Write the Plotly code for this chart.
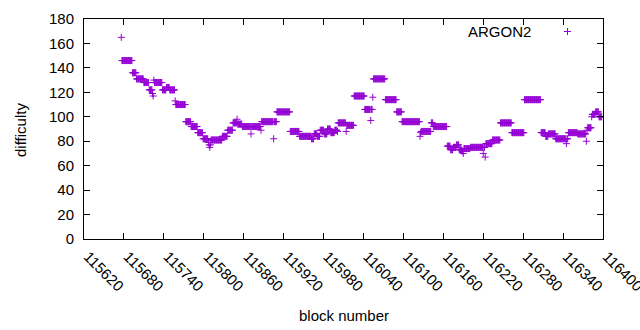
import plotly.graph_objects as go

# Runs of constant difficulty: first block, last block, difficulty
run_first = [115676, 115677, 115693, 115699, 115710, 115718, 115723, 115724, 115725, 115726,
             115738, 115744, 115749, 115757, 115758, 115773, 115781, 115791, 115799, 115807,
             115808, 115809, 115810, 115811, 115828, 115836, 115844, 115850, 115851, 115858,
             115871, 115872, 115886, 115887, 115905, 115906, 115910, 115930, 115944, 115962,
             115966, 115971, 115975, 115981, 115986, 115991, 115997, 116001, 116002, 116014,
             116015, 116026, 116042, 116051, 116052, 116054, 116055, 116073, 116090, 116098,
             116125, 116126, 116127, 116142, 116145, 116166, 116171, 116175, 116180, 116184,
             116188, 116190, 116191, 116201, 116220, 116221, 116223, 116224, 116234, 116246,
             116263, 116282, 116307, 116314, 116318, 116329, 116345, 116346, 116348, 116362,
             116375, 116376, 116377, 116383, 116384, 116389, 116394]
run_last = [115676, 115692, 115698, 115709, 115717, 115722, 115723, 115724, 115725, 115737,
            115743, 115748, 115756, 115757, 115772, 115780, 115790, 115798, 115806, 115807,
            115808, 115809, 115810, 115827, 115835, 115843, 115849, 115850, 115857, 115870,
            115871, 115885, 115886, 115904, 115905, 115909, 115929, 115943, 115961, 115965,
            115970, 115974, 115980, 115985, 115990, 115996, 116000, 116001, 116013, 116014,
            116025, 116041, 116050, 116051, 116053, 116054, 116072, 116089, 116097, 116124,
            116125, 116126, 116141, 116144, 116165, 116170, 116174, 116179, 116183, 116187,
            116189, 116190, 116200, 116219, 116220, 116222, 116223, 116233, 116245, 116262,
            116281, 116306, 116313, 116317, 116328, 116344, 116345, 116347, 116361, 116374,
            116375, 116376, 116382, 116383, 116388, 116393, 116398]
run_value = [165, 146, 136, 131, 128, 122, 119, 117, 130, 128,
             122, 124, 122, 113, 110, 96, 92, 87, 82, 79,
             77, 75, 77, 81, 84, 89, 95, 98, 94, 92,
             86, 92, 89, 96, 82, 96, 104, 88, 84, 82,
             86, 84, 89, 86, 90, 87, 89, 88, 95, 88,
             93, 117, 106, 97, 106, 116, 131, 114, 104, 96,
             84, 87, 88, 95, 92, 76, 73, 75, 77, 73,
             72, 70, 74, 75, 70, 75, 67, 78, 81, 95,
             87, 114, 87, 84, 86, 82, 78, 82, 87, 86,
             80, 89, 91, 100, 102, 104, 100]

x_ticks = list(range(115620, 116401, 60))
y_ticks = list(range(0, 181, 20))

blocks, diffs = [], []
for a, b, v in zip(run_first, run_last, run_value):
    for blk in range(a, b + 1):
        blocks.append(blk)
        diffs.append(v)

COLOR = "#9400D3"
FONT = "Liberation Sans, Arial, sans-serif"
FS = 15

L, R, T, B = 84, 37, 19, 91
W, H = 640, 330
pw, ph = W - L - R, H - T - B

def px(x):
    return (x - L) / pw

def py(y):
    return 1 - (y - T) / ph

fig = go.Figure()
fig.add_trace(go.Scatter(
    x=blocks, y=diffs, mode="markers", name="ARGON2",
    marker=dict(symbol="cross-thin", size=5, line=dict(width=1, color=COLOR), color=COLOR),
    showlegend=False, hoverinfo="skip",
))

axis_common = dict(
    showline=True, linecolor="black", linewidth=1, mirror="allticks",
    ticks="inside", ticklen=6, tickcolor="black", tickwidth=1,
    showgrid=False, zeroline=False, automargin=False,
    tickfont=dict(family=FONT, size=FS, color="black"),
)
fig.update_xaxes(range=[115620, 116400], tickvals=x_ticks, ticktext=[str(t) for t in x_ticks],
                 tickangle=45, ticklabeloverflow="allow", ticklabelshift=4, ticklabelstandoff=2,
                 **axis_common)
fig.update_yaxes(range=[0, 180], tickvals=y_ticks, ticklabelstandoff=6, **axis_common)

fig.add_annotation(x=px(343.5), y=py(315), xref="paper", yref="paper", text="block number",
                   showarrow=False, font=dict(family=FONT, size=FS, color="black"),
                   xanchor="center", yanchor="middle")
fig.add_annotation(x=px(20), y=py(130), xref="paper", yref="paper", text="difficulty",
                   showarrow=False, textangle=-90, font=dict(family=FONT, size=FS, color="black"),
                   xanchor="center", yanchor="middle")
# legend drawn gnuplot-style: text then sample
fig.add_annotation(x=px(533), y=py(31), xref="paper", yref="paper", text="ARGON2", showarrow=False,
                   font=dict(family=FONT, size=FS, color="black"), xanchor="right", yanchor="middle")
cx, cy = px(567.5), py(31.5)
dx, dy = 3.5 / pw, 3.5 / ph
fig.add_shape(type="line", xref="paper", yref="paper", x0=cx - dx, x1=cx + dx, y0=cy, y1=cy,
              line=dict(color=COLOR, width=1))
fig.add_shape(type="line", xref="paper", yref="paper", x0=cx, x1=cx, y0=cy - dy, y1=cy + dy,
              line=dict(color=COLOR, width=1))

fig.update_layout(
    width=W, height=H,
    margin=dict(l=L, r=R, t=T, b=B, autoexpand=False),
    paper_bgcolor="white", plot_bgcolor="white",
    font=dict(family=FONT, size=FS, color="black"),
    hovermode=False,
)

fig.write_html("out.html", config={"displayModeBar": False, "staticPlot": True})

# remove the browser's default page margin so the figure sits at the top-left corner
with open("out.html", "r", encoding="utf-8") as f:
    html = f.read()
html = html.replace("<head>", "<head><style>html,body{margin:0;padding:0;overflow:hidden;}</style>", 1)
with open("out.html", "w", encoding="utf-8") as f:
    f.write(html)
